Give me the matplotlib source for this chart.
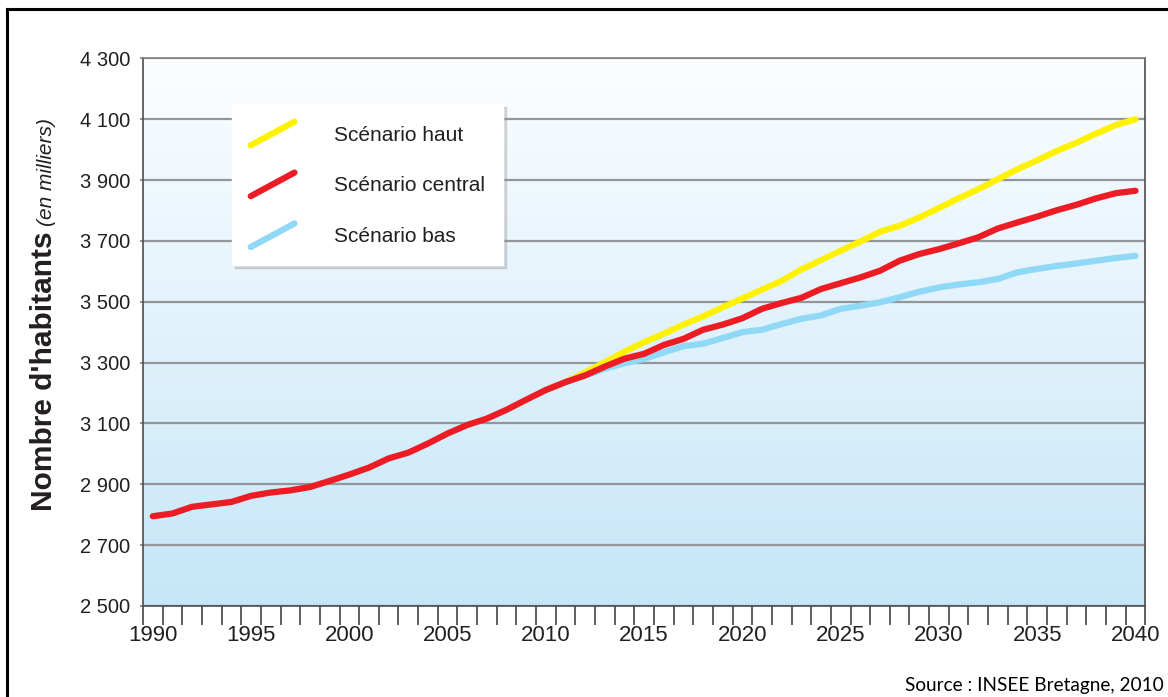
import numpy as np
import matplotlib
matplotlib.use("Agg")
import matplotlib.pyplot as plt
from matplotlib.lines import Line2D
from matplotlib.legend_handler import HandlerBase
from matplotlib import font_manager

# data (thousands of inhabitants) :
years = list(range(1990, 2041))
central = [2795, 2804, 2826, 2834, 2842, 2862, 2873, 2880, 2891, 2911,
           2932, 2955, 2985, 3004, 3034, 3067, 3095, 3116, 3145, 3178,
           3210, 3236, 3258, 3287, 3313, 3329, 3358, 3378, 3408, 3425,
           3446, 3477, 3496, 3513, 3542, 3561, 3580, 3602, 3635, 3657,
           3673, 3692, 3712, 3741, 3761, 3780, 3801, 3819, 3840, 3857, 3865]
scen_years = list(range(2010, 2041))
high = [3210, 3236, 3268, 3301, 3336, 3367, 3395, 3425, 3452, 3482,
        3511, 3540, 3569, 3606, 3637, 3668, 3698, 3730, 3750, 3777,
        3808, 3840, 3870, 3903, 3936, 3965, 3996, 4023, 4053, 4081, 4100]
low = [3210, 3236, 3258, 3280, 3298, 3312, 3334, 3354, 3362, 3381,
       3400, 3408, 3427, 3444, 3455, 3477, 3487, 3498, 3515, 3533,
       3547, 3557, 3564, 3575, 3597, 3608, 3618, 3626, 3635, 3644, 3651]
labels = ["Scénario haut", "Scénario central", "Scénario bas"]
y_ticks = list(range(2500, 4301, 200))
x_labels = list(range(1990, 2041, 5))

# fonts :
names = {f.name for f in font_manager.fontManager.ttflist}
narrow = "Liberation Sans Narrow" if "Liberation Sans Narrow" in names else "Liberation Sans"
plt.rcParams["font.family"] = [narrow, "DejaVu Sans"]
txt_col = "#231f20"


class DiagHandler(HandlerBase):
    """draw legend line as a rising diagonal"""
    def create_artists(self, legend, orig_handle, xdescent, ydescent,
                       width, height, fontsize, trans):
        ym = height / 2 - ydescent
        line = Line2D([-xdescent, -xdescent + width], [ym - 8.5, ym + 8.5],
                      color=orig_handle.get_color(),
                      linewidth=orig_handle.get_linewidth(),
                      solid_capstyle="round", transform=trans)
        return [line]


fig = plt.figure(figsize=(11.68, 6.97), dpi=100)
ax = fig.add_axes([0.1224, 0.1306, 0.8582, 0.7856])

# gradient background :
grad = np.linspace(0, 1, 256).reshape(-1, 1)
top_c = np.array([252, 254, 255]) / 255.0
bot_c = np.array([198, 230, 248]) / 255.0
img = top_c[None, None, :] * (1 - grad[:, :, None]) + bot_c[None, None, :] * grad[:, :, None]
ax.imshow(img, extent=[0, 1, 0, 1], transform=ax.transAxes, aspect="auto", zorder=0)

# lines :
lw = 4.5
l_high, = ax.plot(scen_years, high, color="#fff200", lw=lw, solid_capstyle="round", zorder=3)
l_low, = ax.plot(scen_years, low, color="#8fd8f6", lw=lw, solid_capstyle="round", zorder=3)
l_cen, = ax.plot(years, central, color="#ed1c24", lw=lw, solid_capstyle="round", zorder=4)

# axes :
ax.set_xlim(1989.5, 2040.5)
ax.set_ylim(2500, 4300)
ax.set_yticks(y_ticks)
ax.set_yticklabels(["{:,}".format(v).replace(",", " ") for v in y_ticks],
                   fontsize=14.5, color=txt_col)
ax.tick_params(axis="y", length=2, width=1.2, color="#808080", pad=7)
ax.set_xticks(np.arange(1989.5, 2041, 1.0))
ax.set_xticklabels([])
ax.tick_params(axis="x", which="major", length=13.5, width=1.1, color="#333333", direction="out")
ax.set_xticks(x_labels, minor=True)
ax.set_xticklabels([str(v) for v in x_labels], minor=True, fontsize=16, color=txt_col)
ax.tick_params(axis="x", which="minor", length=0, pad=14)
ax.set_axisbelow(True)
ax.grid(axis="y", color="#939598", linewidth=1.6)
ax.grid(axis="x", visible=False)
for side, col in [("left", "#4d4d4d"), ("bottom", "#4d4d4d"), ("right", "#4d4d4d"), ("top", "#808080")]:
    ax.spines[side].set_color(col)
    ax.spines[side].set_linewidth(1.2)

# legend :
leg = ax.legend([l_high, l_cen, l_low], labels, handler_map={Line2D: DiagHandler()},
                loc="upper left", bbox_to_anchor=(0.0888, 0.6153, 0.2704, 0.3013),
                mode="expand", fontsize=15, frameon=True, fancybox=False,
                edgecolor="white", facecolor="white", framealpha=1,
                shadow={"color": "0.6", "alpha": 0.35},
                handlelength=2.1, handleheight=1.2, handletextpad=1.9,
                labelspacing=1.4, borderpad=0.9, borderaxespad=0)
for t in leg.get_texts():
    t.set_color(txt_col)
leg.set_zorder(6)

# y label in two styles :
fig.canvas.draw()
r = fig.canvas.get_renderer()
lab1 = fig.text(44 / 1168, 1 - 511 / 697, "Nombre d'habitants", rotation=90,
                ha="center", va="bottom", fontsize=21.5, fontweight="bold", color=txt_col)
bb = lab1.get_window_extent(r)
fig.text(46 / 1168, (bb.y1 + 5) / fig.bbox.height, "(en milliers)", rotation=90,
         ha="center", va="bottom", fontsize=15, style="italic", color=txt_col)

# source :
fig.text(1164 / 1168, 1 - 686 / 697, "Source : INSEE Bretagne, 2010",
         ha="right", va="center", fontsize=13.7, family=["Lato", "DejaVu Sans"], color="black")

# frame :
fig.add_artist(Line2D([7 / 1168, 7 / 1168], [0, 1 - 8.5 / 697], color="black", lw=2.2,
                      transform=fig.transFigure))
fig.add_artist(Line2D([7 / 1168, 1], [1 - 8.5 / 697, 1 - 8.5 / 697], color="black", lw=2.2,
                      transform=fig.transFigure))

fig.savefig("out.png", dpi=100)
